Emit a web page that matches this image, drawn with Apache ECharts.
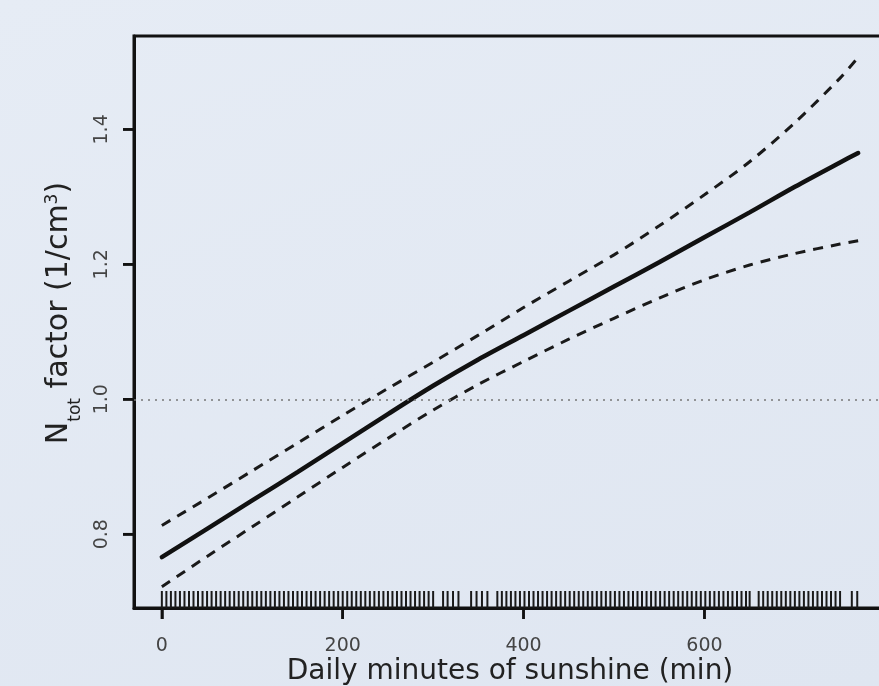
<!DOCTYPE html>
<html lang="en">
  <head>
    <meta charset="UTF-8" />
    <title>Sunshine smooth</title>
    <script src="https://cdn.jsdelivr.net/npm/echarts@6/dist/echarts.min.js"></script>
    <style>
      html,
      body {
        margin: 0;
        padding: 0;
        width: 879px;
        height: 686px;
        overflow: hidden;
        background: linear-gradient(160deg, #e6ecf5 0%, #dfe6f1 100%);
      }
      #chart {
        width: 879px;
        height: 686px;
      }
    </style>
  </head>
  <body>
    <div id="chart"></div>
    <script>
      // minutes of sunshine where the curves were read
      var xVals = [0, 50, 100, 150, 200, 250, 300, 350, 400, 450, 500, 550, 600, 650, 700, 750, 770];
      var fitVals = [0.766, 0.808, 0.85, 0.892, 0.935, 0.978, 1.02, 1.059, 1.095, 1.131, 1.167, 1.203, 1.24, 1.277, 1.315, 1.351, 1.365];
      var upperVals = [0.813, 0.853, 0.894, 0.935, 0.976, 1.016, 1.055, 1.095, 1.136, 1.175, 1.214, 1.257, 1.303, 1.352, 1.41, 1.476, 1.507];
      var lowerVals = [0.722, 0.767, 0.811, 0.855, 0.899, 0.942, 0.984, 1.022, 1.056, 1.089, 1.12, 1.15, 1.177, 1.199, 1.216, 1.23, 1.235];
      // observed sunshine values (rug)
      var rugVals = [
        0, 5, 10, 15, 20, 25, 30, 35, 40, 45, 50, 55, 60, 65, 70, 75, 80, 85, 90, 95,
        100, 105, 110, 115, 120, 125, 130, 135, 140, 145, 150, 155, 160, 165, 170, 175, 180, 185, 190, 195,
        200, 205, 210, 215, 220, 225, 230, 235, 240, 245, 250, 255, 260, 265, 270, 275, 280, 285, 290, 295, 300,
        311, 316, 322, 328,
        342, 348, 354, 360,
        371, 376, 381, 386, 391, 396, 401, 406, 411, 416, 421, 426, 431, 436, 441, 446, 451, 456, 461, 466,
        471, 476, 481, 486, 491, 496, 501, 506, 511, 516, 521, 526, 531, 536, 541, 546, 551, 556, 561, 566,
        571, 576, 581, 586, 591, 596, 601, 606, 611, 616, 621, 626, 631, 636, 641, 646, 650,
        660, 665, 670, 675, 680, 685, 690, 695, 700, 705, 710, 715, 720, 725, 730, 735, 740, 745, 750,
        763, 769
      ];
      var xTicks = [0, 200, 400, 600];
      var yTicks = [0.8, 1.0, 1.2, 1.4];

      var xMin = -30.8;
      var xMax = 800.8;
      var yMin = 0.6906;
      var yMax = 1.5384;
      var font = "DejaVu Sans";

      function pairs(ys) {
        return xVals.map(function (x, i) {
          return [x, ys[i]];
        });
      }

      // short outward tick strokes at the axis edge
      function tickSeries(values, isX) {
        return {
          type: "custom",
          clip: false,
          silent: true,
          data: values.map(function (v) {
            return [v];
          }),
          encode: isX ? { x: 0 } : { y: 0 },
          renderItem: function (params, api) {
            var v = api.value(0);
            var p = isX ? api.coord([v, yMin]) : api.coord([xMin, v]);
            return {
              type: "line",
              shape: isX
                ? { x1: p[0], y1: p[1], x2: p[0], y2: p[1] + 11 }
                : { x1: p[0], y1: p[1], x2: p[0] - 11, y2: p[1] },
              style: { stroke: "#111", lineWidth: 2.5 },
            };
          },
        };
      }

      var mCharts = echarts.init(document.getElementById("chart"));
      mCharts.setOption({
        backgroundColor: "transparent",
        animation: false,
        grid: {
          left: 134,
          top: 36,
          bottom: 78,
          right: -7,
          outerBoundsMode: "none",
          containLabel: false,
          show: true,
          borderColor: "#111",
          borderWidth: 3,
          backgroundColor: "transparent",
        },
        xAxis: {
          type: "value",
          min: xMin,
          max: xMax,
          name: "Daily minutes of sunshine (min)",
          nameLocation: "middle",
          nameGap: 50,
          nameMoveOverlap: false,
          nameTextStyle: { fontFamily: font, fontSize: 28, color: "#222" },
          axisLine: { show: true, onZero: false, lineStyle: { color: "#111", width: 3 } },
          splitLine: { show: false },
          axisTick: {
            show: true,
            inside: false,
            length: 11,
            customValues: xTicks,
            lineStyle: { color: "#111", width: 2.5 },
          },
          axisLabel: {
            customValues: xTicks,
            margin: 29,
            fontFamily: font,
            fontSize: 19,
            color: "#444",
          },
        },
        yAxis: {
          type: "value",
          min: yMin,
          max: yMax,
          name: "{n|N}{sub|tot}{n| factor (1/cm}{sup|3}{n|)}",
          nameLocation: "middle",
          nameRotate: 90,
          nameGap: 50,
          nameMoveOverlap: false,
          nameTextStyle: {
            fontFamily: font,
            fontSize: 30,
            color: "#222",
            padding: [0, 0, 0, 18],
            rich: {
              n: { fontFamily: font, fontSize: 30, lineHeight: 30, verticalAlign: "top", color: "#222" },
              sub: { fontFamily: font, fontSize: 17, verticalAlign: "top", padding: [23, 0, 0, 0], color: "#222" },
              sup: { fontFamily: font, fontSize: 17, lineHeight: 11, verticalAlign: "top", color: "#222" },
            },
          },
          axisLine: { show: true, onZero: false, lineStyle: { color: "#111", width: 3 } },
          splitLine: { show: false },
          axisTick: {
            show: true,
            inside: false,
            length: 11,
            customValues: yTicks,
            lineStyle: { color: "#111", width: 2.5 },
          },
          axisLabel: {
            customValues: yTicks,
            rotate: 90,
            margin: 22,
            fontFamily: font,
            fontSize: 19,
            color: "#444",
            formatter: function (v) {
              return v.toFixed(1);
            },
          },
        },
        series: [
          {
            name: "fit",
            type: "line",
            data: pairs(fitVals),
            smooth: 0.3,
            symbol: "none",
            lineStyle: { color: "#111", width: 4.5, cap: "round" },
            markLine: {
              silent: true,
              symbol: "none",
              label: { show: false },
              lineStyle: { color: "#777", width: 1.5, type: [2, 5] },
              data: [{ yAxis: 1.0 }],
            },
          },
          {
            name: "upper",
            type: "line",
            data: pairs(upperVals),
            smooth: 0.3,
            symbol: "none",
            lineStyle: { color: "#1a1a1a", width: 3, type: [10, 8] },
          },
          {
            name: "lower",
            type: "line",
            data: pairs(lowerVals),
            smooth: 0.3,
            symbol: "none",
            lineStyle: { color: "#1a1a1a", width: 3, type: [10, 8] },
          },
          {
            name: "rug",
            type: "custom",
            data: rugVals.map(function (v) {
              return [v];
            }),
            encode: { x: 0 },
            renderItem: function (params, api) {
              var p = api.coord([api.value(0), yMin]);
              return {
                type: "line",
                shape: { x1: p[0], y1: p[1], x2: p[0], y2: p[1] - 17 },
                style: { stroke: "#1a1a1a", lineWidth: 2 },
              };
            },
          },
          tickSeries(xTicks, true),
          tickSeries(yTicks, false),
        ],
      });
    </script>
  </body>
</html>
